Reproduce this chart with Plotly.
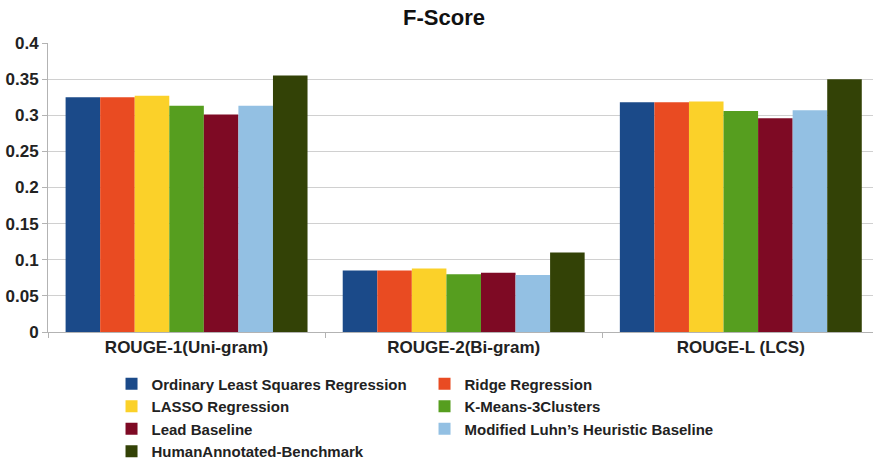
import plotly.graph_objects as go

categories = ["ROUGE-1(Uni-gram)", "ROUGE-2(Bi-gram)", "ROUGE-L (LCS)"]
series_names = [
    "Ordinary Least Squares Regression",
    "Ridge Regression",
    "LASSO Regression",
    "K-Means-3Clusters",
    "Lead Baseline",
    "Modified Luhn’s Heuristic Baseline",
    "HumanAnnotated-Benchmark",
]
ols = [0.325, 0.085, 0.318]
ridge = [0.325, 0.085, 0.318]
lasso = [0.327, 0.088, 0.319]
kmeans = [0.313, 0.080, 0.306]
lead = [0.301, 0.082, 0.296]
luhn = [0.313, 0.079, 0.307]
human = [0.355, 0.110, 0.350]
series_values = [ols, ridge, lasso, kmeans, lead, luhn, human]
colors = ["#1b4a89", "#e94b22", "#fbd129", "#569e1f", "#7e0a24", "#93c0e3", "#334206"]
y_ticks = [0, 0.05, 0.1, 0.15, 0.2, 0.25, 0.3, 0.35, 0.4]
y_tick_labels = ["0", "0.05", "0.1", "0.15", "0.2", "0.25", "0.3", "0.35", "0.4"]

FONT = "Liberation Sans, Arial, sans-serif"

fig = go.Figure()
for name, vals, col in zip(series_names, series_values, colors):
    fig.add_trace(go.Bar(name="<b>%s</b>" % name, x=categories, y=vals,
                         marker=dict(color=col, line=dict(width=0))))

fig.update_layout(
    width=873, height=461,
    paper_bgcolor="white", plot_bgcolor="white",
    margin=dict(l=48, r=0, t=43, b=129, autoexpand=False),
    barmode="group", bargap=0.127, bargroupgap=0,
    title=dict(text="<b>F-Score</b>", x=444/873, xanchor="center", y=1 - 17/461, yanchor="middle",
               font=dict(family=FONT, size=22, color="#111")),
    font=dict(family=FONT, size=17, color="#222"),
    legend=dict(orientation="h", x=0.0770, xanchor="left", y=-0.123, yanchor="top",
                entrywidth=268, entrywidthmode="pixels", itemwidth=30,
                font=dict(family=FONT, size=15, color="#222"),
                traceorder="normal", bgcolor="rgba(0,0,0,0)", tracegroupgap=0),
    showlegend=True,
)
fig.update_xaxes(
    range=[-0.5, 2.477], showgrid=False, showline=True, linecolor="#b3b3b3", linewidth=1,
    ticks="outside", tickson="boundaries", ticklen=5, tickcolor="#b3b3b3",
    tickfont=dict(family=FONT, size=17, color="#222"),
    tickprefix="<b>", ticksuffix="</b>",
)
fig.update_yaxes(
    range=[0, 0.4], tickvals=y_ticks, ticktext=["<b>%s</b>" % t for t in y_tick_labels],
    showgrid=True, gridcolor="#d0d0d0", gridwidth=1,
    showline=True, linecolor="#b3b3b3", linewidth=1, zeroline=False,
    ticks="outside", ticklen=5, tickcolor="#b3b3b3",
    tickfont=dict(family=FONT, size=17, color="#222"),
)
fig.write_html("out.html", config={"displayModeBar": False},
               post_script="document.body.style.margin='0px';")
